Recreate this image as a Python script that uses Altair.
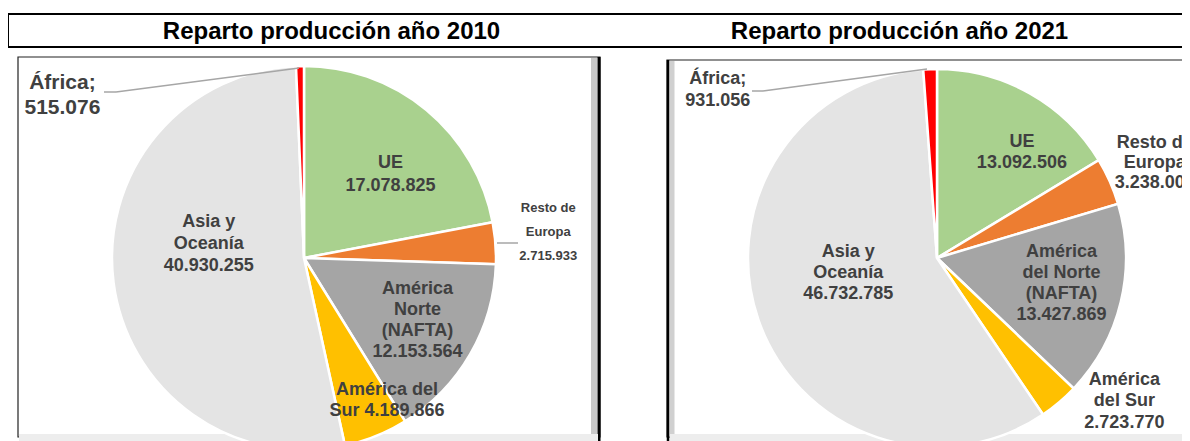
import altair as alt
import pandas as pd

# ---------------- data ----------------
regions = ["UE", "Resto de Europa", "América del Norte", "América del Sur", "Asia y Oceanía", "África"]
colors = ["#A9D18E", "#ED7D31", "#A5A5A5", "#FFC000", "#E4E4E4", "#FF0000"]
values_2010 = [17078825, 2715933, 12153564, 4189866, 40930255, 515076]
values_2021 = [13092506, 3238003, 13427869, 2723770, 46732785, 931056]
names_2010 = ["UE\n", "Resto de\nEuropa\n", "América\nNorte\n(NAFTA)\n", "América del\nSur ", "Asia y\nOceanía\n", "África;\n"]
names_2021 = ["UE\n", "Resto de\nEuropa\n", "América\ndel Norte\n(NAFTA)\n", "América\ndel Sur\n", "Asia y\nOceanía\n", "África;\n"]
titles = ["Reparto producción año 2010", "Reparto producción año 2021"]

FONT = "Liberation Sans"
LABEL_COLOR = "#404040"
OFF = 8  # page margin


def fmt(v):
    return f"{v:,}".replace(",", ".")


def table(vals, names):
    return pd.DataFrame({
        "region": regions,
        "value": vals,
        "ord": list(range(len(regions))),
        "label": [n + fmt(v) for n, v in zip(names, vals)],
    })


one = pd.DataFrame({"k": [0]})


def P(v):
    return v - OFF


def rule(x1, y1, x2, y2, color, w):
    return alt.Chart(one).mark_rule(color=color, strokeWidth=w).encode(
        x=alt.value(P(x1)), y=alt.value(P(y1)), x2=alt.value(P(x2)), y2=alt.value(P(y2)))


def rect(x1, y1, x2, y2, fill, stroke, w):
    return alt.Chart(one).mark_rect(fill=fill, stroke=stroke, strokeWidth=w).encode(
        x=alt.value(P(x1)), y=alt.value(P(y1)), x2=alt.value(P(x2)), y2=alt.value(P(y2)))


def pie(df, cx, cy, R, specs):
    base = alt.Chart(df)
    arc = base.mark_arc(outerRadius=R, stroke="white", strokeWidth=2.5).encode(
        theta=alt.Theta("value:Q", stack=True),
        color=alt.Color("region:N", scale=alt.Scale(domain=regions, range=colors), legend=None),
        order=alt.Order("ord:Q"),
        x=alt.value(P(cx)), y=alt.value(P(cy)),
    )
    layers = [arc]
    for reg, r, dx, dy, size, lh in specs:
        n_lines = df.loc[df.region == reg, "label"].iloc[0].count("\n") + 1
        t = base.mark_text(
            radius=r, dx=dx, dy=dy - (n_lines - 1) * lh / 2, fontSize=size, lineHeight=lh,
            font=FONT, fontWeight="bold", color=LABEL_COLOR, lineBreak="\n",
            align="center", baseline="middle",
        ).encode(
            theta=alt.Theta("value:Q", stack=True),
            order=alt.Order("ord:Q"),
            detail="region:N",
            text=alt.condition(f"datum.region === '{reg}'", alt.Text("label:N"), alt.value("")),
            x=alt.value(P(cx)), y=alt.value(P(cy)),
        )
        layers.append(t)
    return layers


df10 = table(values_2010, names_2010)
df21 = table(values_2021, names_2021)

specs10 = [
    ("UE", 120, 10, 9, 18, 23),
    ("Resto de Europa", 244, 1, -7, 13, 24),
    ("América del Norte", 130, 1, -3, 18, 21),
    ("América del Sur", 160, 23, -6, 18, 21),
    ("Asia y Oceanía", 96, 0, -26, 18, 22),
    ("África", 170, -238, 7, 21, 25),
]
specs21 = [
    ("UE", 120, 26, -1, 18, 21),
    ("Resto de Europa", 235, 3, 0, 18, 20),
    ("América del Norte", 128, 0, -4, 18, 21),
    ("América del Sur", 236, 35, -37, 18, 21.5),
    ("Asia y Oceanía", 95, 1, -16, 18, 21),
    ("África", 170, -213, 2, 18, 22),
]

# panel frames (background)
frames = [
    rect(18, 57, 600, 437, "white", "#222222", 1.2),
    rule(594, 58, 594, 437, "#c8c8c8", 6),
    rule(599, 57, 599, 441, "#000000", 3),
    rect(19, 434, 598, 441, "#ededed", "#ededed", 0),
    rect(667, 60, 1210, 437, "white", "#222222", 1.2),
    rule(672, 61, 672, 437, "#d0d0d0", 5),
    rule(668, 60, 668, 441, "#000000", 2.5),
    rect(670, 434, 1200, 441, "#ededed", "#ededed", 0),
]

pies = pie(df10, 304, 258, 192, specs10) + pie(df21, 937, 258, 189, specs21)

leaders = [
    rule(104, 92, 116, 92, "#a6a6a6", 1.5),
    rule(116, 92, 299, 68, "#a6a6a6", 1.5),
    rule(497, 243, 518, 243, "#a6a6a6", 1.5),
    rule(752, 91, 763, 91, "#a6a6a6", 1.5),
    rule(763, 91, 927, 69, "#a6a6a6", 1.5),
]

title_box = rect(8, 14, 1210, 47, "transparent", "#000000", 2)
title_marks = [
    alt.Chart(one).mark_text(font=FONT, fontWeight="bold", fontSize=24, color="#000000",
                             align="center", baseline="middle").encode(
        x=alt.value(P(cx)), y=alt.value(P(31.5)), text=alt.value(t))
    for t, cx in zip(titles, [331.5, 899.5])
]

chart = alt.layer(*frames, *pies, *leaders, title_box, *title_marks).resolve_scale(
    theta="independent"
).properties(
    width=1174, height=433, padding=0,
    autosize=alt.AutoSizeParams(type="none"),
    background="white",
).configure_view(stroke=None)

chart.save("out.html", embed_options={"renderer": "svg", "actions": False})
